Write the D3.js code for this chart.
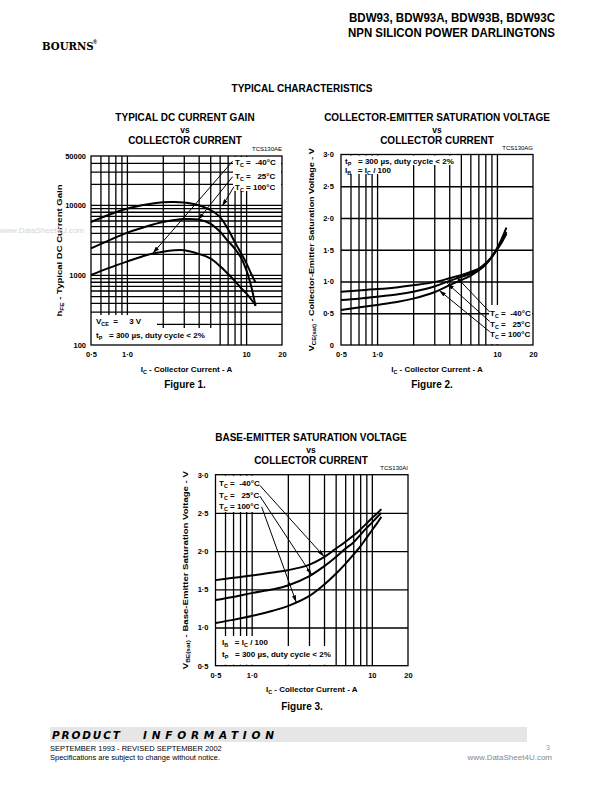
<!DOCTYPE html>
<html><head><meta charset="utf-8">
<script src="https://cdn.jsdelivr.net/npm/d3@7"></script>
<style>html,body{margin:0;padding:0;background:#fff} text{white-space:pre}</style>
</head><body>
<script>
// ================= DATA =================
const icTickValues = [0.5, 1, 10, 20];
const icTickLabels = ["0·5", "1·0", "10", "20"];
const icGridValues = [0.6, 0.7, 0.8, 0.9, 1, 2, 3, 4, 5, 6, 7, 8, 9, 10];

// Figure 1: hFE vs Ic
const fig1Ic      = [0.5, 0.7, 1, 1.5, 2, 2.5, 3, 4, 5, 6, 7, 8, 9, 10, 11, 12];
const fig1Hfe100  = [5700, 7200, 8800, 10200, 10900, 11000, 10800, 9900, 8500, 6800, 4600, 3000, 2100, 1500, 1050, 780];
const fig1Hfe25   = [2400, 3100, 4000, 5000, 5700, 6100, 6300, 6200, 5400, 4200, 3100, 2400, 1800, 1200, 700, 360];
const fig1HfeM40  = [1000, 1250, 1550, 1950, 2150, 2250, 2250, 2000, 1720, 1350, 1050, 830, 660, 550, 450, 370];
const fig1YTicks  = [100, 1000, 10000, 50000];
const fig1YTickLabels = ["100", "1000", "10000", "50000"];
const fig1YGrid   = [200,300,400,500,600,700,800,900,1000,2000,3000,4000,5000,6000,7000,8000,9000,10000,20000,30000,40000];
const fig1ArrowFrom = [[7.7, 42000], [7.7, 25300], [7.9, 18200]];
const fig1ArrowTo   = [[1.65, 2040], [3.95, 6100], [6.3, 9600]];

// Figure 2: VCE(sat) vs Ic
const fig23Ic     = [0.5, 0.7, 1, 1.5, 2, 3, 4, 5, 6, 7, 8, 9, 10, 11, 12];
const fig2VceM40  = [0.84, 0.86, 0.88, 0.91, 0.94, 0.99, 1.05, 1.10, 1.15, 1.20, 1.28, 1.38, 1.50, 1.62, 1.75];
const fig2Vce25   = [0.71, 0.73, 0.76, 0.80, 0.84, 0.92, 1.01, 1.07, 1.12, 1.19, 1.28, 1.38, 1.51, 1.64, 1.78];
const fig2Vce100  = [0.55, 0.59, 0.63, 0.68, 0.73, 0.83, 0.94, 1.02, 1.09, 1.17, 1.26, 1.38, 1.52, 1.68, 1.85];
const fig2YTicks  = [0, 0.5, 1, 1.5, 2, 2.5, 3];
const fig2YTickLabels = ["0", "0·5", "1·0", "1·5", "2·0", "2·5", "3·0"];
const fig2ArrowFrom = [[8.7, 0.52], [8.7, 0.37], [8.7, 0.21]];
const fig2ArrowTo   = [[4.6, 1.07], [3.86, 0.97], [3.3, 0.86]];

// Figure 3: VBE(sat) vs Ic
const fig3VbeM40  = [1.62, 1.65, 1.68, 1.72, 1.75, 1.82, 1.92, 2.03, 2.12, 2.20, 2.28, 2.36, 2.43, 2.49, 2.55];
const fig3Vbe25   = [1.36, 1.40, 1.45, 1.50, 1.55, 1.67, 1.80, 1.92, 2.03, 2.11, 2.21, 2.30, 2.37, 2.44, 2.50];
const fig3Vbe100  = [1.06, 1.10, 1.15, 1.22, 1.28, 1.41, 1.56, 1.70, 1.83, 1.95, 2.06, 2.17, 2.27, 2.36, 2.45];
const fig3YTicks  = [0.5, 1, 1.5, 2, 2.5, 3];
const fig3YTickLabels = ["0·5", "1·0", "1·5", "2·0", "2·5", "3·0"];
const fig3ArrowFrom = [[1.17, 2.86], [1.17, 2.72], [1.21, 2.58]];
const fig3ArrowTo   = [[4.0, 1.93], [3.16, 1.69], [2.35, 1.33]];

// ================= DRAWING =================
const FONT = "'Liberation Sans', Arial, Helvetica, sans-serif";
const W = 595, H = 792;
const svg = d3.select("body").append("svg").attr("width", W).attr("height", H)
  .style("font-family", FONT);
svg.append("rect").attr("width", W).attr("height", H).attr("fill", "#fff");

const defs = svg.append("defs");
defs.append("marker").attr("id", "ah").attr("viewBox", "0 0 10 6")
  .attr("refX", 10).attr("refY", 3).attr("markerWidth", 7).attr("markerHeight", 4.2)
  .attr("markerUnits", "userSpaceOnUse").attr("orient", "auto")
  .append("path").attr("d", "M0,0 L10,3 L0,6 Z").attr("fill", "#000");

// rich text: segs = strings or {sub:"..."}
function rich(sel, x, y, segs, o = {}) {
  const size = o.size || 8;
  const t = sel.append("text").attr("x", x).attr("y", y)
    .attr("font-size", size).attr("font-weight", o.weight || "bold")
    .attr("text-anchor", o.anchor || "start").attr("fill", o.fill || "#000")
    .attr("xml:space", "preserve");
  if (o.family) t.attr("font-family", o.family);
  if (o.rotate) t.attr("transform", `rotate(${o.rotate},${x},${y})`);
  if (o.len) t.attr("textLength", o.len).attr("lengthAdjust", o.adjust || "spacingAndGlyphs");
  if (o.italic) t.attr("font-style", "italic");
  if (typeof segs === "string") segs = [segs];
  let down = 0;
  segs.forEach(s => {
    if (typeof s === "string") {
      const ts = t.append("tspan").text(s);
      if (down) { ts.attr("dy", -down); down = 0; }
    } else {
      const d = size * 0.28;
      t.append("tspan").attr("font-size", size * 0.68).attr("dy", d).text(s.sub);
      down = d;
    }
  });
  return t;
}

function drawFig(cfg) {
  const g = svg.append("g");
  const x = d3.scaleLog().domain([0.5, 20]).range([cfg.x0, cfg.x1]);
  const y = (cfg.ylog ? d3.scaleLog() : d3.scaleLinear()).domain(cfg.yDomain).range([cfg.yBot, cfg.yTop]);

  // grid via axes
  g.append("g").attr("transform", `translate(0,${cfg.yBot})`)
    .call(d3.axisBottom(x).tickValues(icGridValues).tickSize(-(cfg.yBot - cfg.yTop)).tickFormat(""))
    .call(a => a.select(".domain").remove())
    .call(a => a.selectAll("line").attr("stroke", "#000").attr("stroke-width", 1.3));
  g.append("g").attr("transform", `translate(${cfg.x0},0)`)
    .call(d3.axisLeft(y).tickValues(cfg.yGrid).tickSize(-(cfg.x1 - cfg.x0)).tickFormat(""))
    .call(a => a.select(".domain").remove())
    .call(a => a.selectAll("line").attr("stroke", "#000").attr("stroke-width", 1.3));

  // white label backgrounds
  cfg.masks.forEach(m => g.append("rect").attr("x", m[0]).attr("y", m[1])
    .attr("width", m[2] - m[0]).attr("height", m[3] - m[1]).attr("fill", "#fff"));

  // frame
  g.append("rect").attr("x", cfg.x0).attr("y", cfg.yTop).attr("width", cfg.x1 - cfg.x0)
    .attr("height", cfg.yBot - cfg.yTop).attr("fill", "none").attr("stroke", "#000").attr("stroke-width", 1.3);

  // tick labels via axes
  g.append("g").attr("transform", `translate(0,${cfg.yBot})`)
    .call(d3.axisBottom(x).tickValues(icTickValues).tickSize(0).tickPadding(cfg.xPad)
      .tickFormat((d, i) => icTickLabels[i]))
    .call(a => a.select(".domain").remove())
    .call(a => a.selectAll("text").attr("font-size", 7.5).attr("font-weight", "bold")
      .attr("font-family", FONT).attr("fill", "#000"));
  g.append("g").attr("transform", `translate(${cfg.x0},0)`)
    .call(d3.axisLeft(y).tickValues(cfg.yTicks).tickSize(0).tickPadding(cfg.yPad)
      .tickFormat((d, i) => cfg.yTickLabels[i]))
    .call(a => a.select(".domain").remove())
    .call(a => a.selectAll("text").attr("font-size", 7.5).attr("font-weight", "bold")
      .attr("font-family", FONT).attr("fill", "#000"));

  // curves
  const line = d3.line().x(d => x(d[0])).y(d => y(d[1])).curve(d3.curveCatmullRom.alpha(0.5));
  cfg.series.forEach(s => {
    g.append("path").datum(cfg.xs.map((v, i) => [v, s[i]])).attr("d", line)
      .attr("fill", "none").attr("stroke", "#000").attr("stroke-width", 2);
  });
  // arrows
  cfg.arrFrom.forEach((f, i) => {
    const t = cfg.arrTo[i];
    g.append("line").attr("x1", x(f[0])).attr("y1", y(f[1])).attr("x2", x(t[0])).attr("y2", y(t[1]))
      .attr("stroke", "#000").attr("stroke-width", 1).attr("marker-end", "url(#ah)");
  });

  const cx = (cfg.x0 + cfg.x1) / 2;
  // titles
  cfg.title.forEach((tl, i) => rich(svg, cfg.titleX, cfg.titleY[i], tl, { size: i === 1 ? 8.5 : 10, anchor: "middle" }));
  rich(svg, cfg.x1, cfg.yTop - 5, cfg.code, { size: 6, weight: "normal", anchor: "end" });
  rich(svg, cx, cfg.yBot + cfg.xTitleDy, ["I", { sub: "C" }, " - Collector Current - A"], { size: 8, anchor: "middle" });
  rich(svg, cfg.capX, cfg.yBot + cfg.capDy, cfg.caption, { size: 10, anchor: "middle" });
  rich(svg, cfg.yLabelX, (cfg.yTop + cfg.yBot) / 2, cfg.yLabel, { size: 8, anchor: "middle", rotate: -90, len: cfg.yLabelLen });
  cfg.notes.forEach(n => rich(svg, n[0], n[1], n[2], { size: 8 }));
}

const TC = (v) => ["T", { sub: "C" }, v];
const TP = ["t", { sub: "P" }, "   = 300 µs, duty cycle < 2%"];
const IB = ["I", { sub: "B" }, "   = I", { sub: "C" }, " / 100"];

// Figure 1
drawFig({
  x0: 91, x1: 282, yTop: 156, yBot: 345, ylog: true, yDomain: [100, 50000],
  yGrid: fig1YGrid, yTicks: fig1YTicks, yTickLabels: fig1YTickLabels,
  xPad: 7, yPad: 5,
  masks: [[233, 157, 281, 191], [91, 315, 157, 328], [91, 328, 213, 345]],
  xs: fig1Ic, series: [fig1Hfe100, fig1Hfe25, fig1HfeM40],
  arrFrom: fig1ArrowFrom, arrTo: fig1ArrowTo,
  title: ["TYPICAL DC CURRENT GAIN", "vs", "COLLECTOR CURRENT"], titleX: 185, titleY: [121, 132.5, 143.5],
  code: "TCS130AE", caption: "Figure 1.", capX: 185, capDy: 43, xTitleDy: 27,
  yLabel: ["h", { sub: "FE" }, " - Typical DC Current Gain"], yLabelX: 62, yLabelLen: 132,
  notes: [[235, 165, TC(" =  -40°C")], [235, 178.5, TC(" =   25°C")], [235, 190, TC(" = 100°C")],
          [96, 324, ["V", { sub: "CE" }, "  =     3 V"]], [96, 338, TP]]
});

// Figure 2
drawFig({
  x0: 341, x1: 533, yTop: 154.5, yBot: 345, ylog: false, yDomain: [0, 3],
  yGrid: [0.5, 1, 1.5, 2, 2.5], yTicks: fig2YTicks, yTickLabels: fig2YTickLabels,
  xPad: 7, yPad: 7,
  masks: [[342, 155.5, 451, 165], [342, 165, 395, 174], [489, 305, 532, 344]],
  xs: fig23Ic, series: [fig2VceM40, fig2Vce25, fig2Vce100],
  arrFrom: fig2ArrowFrom, arrTo: fig2ArrowTo,
  title: ["COLLECTOR-EMITTER SATURATION VOLTAGE", "vs", "COLLECTOR CURRENT"], titleX: 437, titleY: [121, 132.5, 143.5],
  code: "TCS130AG", caption: "Figure 2.", capX: 432, capDy: 43, xTitleDy: 27,
  yLabel: ["V", { sub: "CE(sat)" }, " - Collector-Emitter Saturation Voltage - V"], yLabelX: 314, yLabelLen: 203,
  notes: [[345, 164, TP], [345, 173, IB],
          [490, 316, TC(" =  -40°C")], [490, 326.5, TC(" =   25°C")], [490, 337, TC(" = 100°C")]]
});

// Figure 3
drawFig({
  x0: 215.5, x1: 408, yTop: 474.7, yBot: 665.7, ylog: false, yDomain: [0.5, 3],
  yGrid: [1, 1.5, 2, 2.5], yTicks: fig3YTicks, yTickLabels: fig3YTickLabels,
  xPad: 7, yPad: 7,
  masks: [[216.5, 475.7, 262, 512], [216.5, 636, 280, 646], [216.5, 646, 326, 664.7]],
  xs: fig23Ic, series: [fig3VbeM40, fig3Vbe25, fig3Vbe100],
  arrFrom: fig3ArrowFrom, arrTo: fig3ArrowTo,
  title: ["BASE-EMITTER SATURATION VOLTAGE", "vs", "COLLECTOR CURRENT"], titleX: 311, titleY: [441, 452.5, 463.5],
  code: "TCS130AI", caption: "Figure 3.", capX: 302, capDy: 44, xTitleDy: 26,
  yLabel: ["V", { sub: "BE(sat)" }, " - Base-Emitter Saturation Voltage - V"], yLabelX: 188, yLabelLen: 198,
  notes: [[219, 486, TC(" =  -40°C")], [219, 497.5, TC(" =   25°C")], [219, 509, TC(" = 100°C")],
          [222, 644.5, IB], [222, 657, TP]]
});

// ================= PAGE TEXT =================
rich(svg, 555, 22, "BDW93, BDW93A, BDW93B, BDW93C", { size: 12.5, anchor: "end", len: 206 });
rich(svg, 555, 37, "NPN SILICON POWER DARLINGTONS", { size: 12.5, anchor: "end", len: 207 });
// logo
rich(svg, 42, 50, "BOURNS", { size: 10.2, family: "'DejaVu Serif', serif" });
rich(svg, 93, 43.5, "®", { size: 5.5 });
rich(svg, 302, 91.5, "TYPICAL CHARACTERISTICS", { size: 10, anchor: "middle" });

// watermark
rich(svg, 84, 233, "www.DataSheet4U.com", { size: 8, weight: "normal", anchor: "end", fill: "#d4d4d4" });

// footer
svg.append("rect").attr("x", 50).attr("y", 727).attr("width", 477).attr("height", 15).attr("fill", "#e6e6e6");
rich(svg, 52, 739, "PRODUCT", { size: 10.5, italic: true, len: 68, adjust: "spacing", family: "'DejaVu Sans', sans-serif" });
rich(svg, 143, 739, "INFORMATION", { size: 10.5, italic: true, len: 131, adjust: "spacing", family: "'DejaVu Sans', sans-serif" });
rich(svg, 50, 751, "SEPTEMBER 1993 - REVISED SEPTEMBER 2002", { size: 7.5, weight: "normal" });
rich(svg, 50, 760, "Specifications are subject to change without notice.", { size: 7.5, weight: "normal" });
rich(svg, 552, 760, "www.DataSheet4U.com", { size: 8, weight: "normal", anchor: "end", fill: "#888" });
rich(svg, 546, 750, "3", { size: 7, weight: "normal", fill: "#999" });
</script>
</body></html>
